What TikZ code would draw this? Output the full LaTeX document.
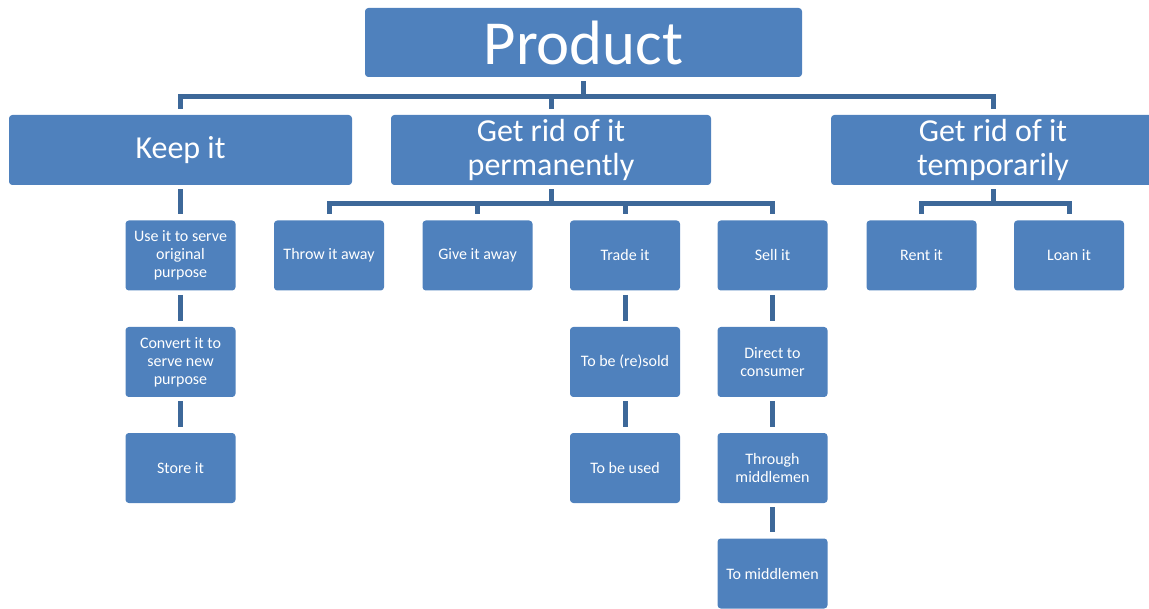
\documentclass[tikz,border=0pt]{standalone}
\usepackage{fontspec}
\setmainfont{Carlito}
\usetikzlibrary{calc}

\definecolor{boxblue}{HTML}{4F81BD}
\definecolor{linkblue}{RGB}{61,104,153}

\begin{document}
\begin{tikzpicture}[x=0.75pt, y=-0.75pt, line cap=butt, line join=miter]

% ---------------- styles ----------------
\tikzset{
  box/.style={draw=none, fill=boxblue, rounded corners=2.5pt, text=white,
    align=center, inner sep=0pt},
  topbox/.style={box, minimum width=327.75pt, minimum height=51.75pt,
    font=\fontsize{47}{50}\selectfont},
  midbox/.style={box, minimum height=52.5pt,
    font=\fontsize{24}{26}\selectfont},
  leafbox/.style={box, minimum width=82.5pt, minimum height=52.5pt,
    font=\fontsize{12}{13.5}\selectfont},
  conn/.style={draw=linkblue, line width=3.75pt, shorten <=3pt, shorten >=4.5pt}
}

\useasboundingbox (0,0) rectangle (1149,609);

% ---------------- top ----------------
\node[topbox] (prod) at (583.5,42.5) {Product};

% ---------------- first level ----------------
\node[midbox, minimum width=257.25pt] (keep) at (180.5,150) {Keep it};
\node[midbox, minimum width=240pt]    (perm) at (551,150) {Get rid of it\\permanently};
\node[midbox, minimum width=243pt]    (temp) at (993,150) {Get rid of it\\temporarily};

% ---------------- keep it ----------------
\node[leafbox] (use)   at (180.5,255.5) {Use it to serve\\original\\purpose};
\node[leafbox] (conv)  at (180.5,362)   {Convert it to\\serve new\\purpose};
\node[leafbox] (store) at (180.5,468)   {Store it};

% ---------------- permanently ----------------
\node[leafbox] (throw) at (329,255.5)   {Throw it away};
\node[leafbox] (give)  at (477.5,255.5) {Give it away};
\node[leafbox] (trade) at (625,255.5)   {Trade it};
\node[leafbox] (sell)  at (772.5,255.5) {Sell it};

\node[leafbox] (resold) at (625,362) {To be (re)sold};
\node[leafbox] (used)   at (625,468) {To be used};

\node[leafbox] (direct) at (772.5,362)   {Direct to\\consumer};
\node[leafbox] (through) at (772.5,468)  {Through\\middlemen};
\node[leafbox] (tomid)  at (772.5,573.5) {To middlemen};

% ---------------- temporarily ----------------
\node[leafbox] (rent) at (921.5,255.5) {Rent it};
\node[leafbox] (loan) at (1069,255.5)  {Loan it};

% ---------------- connectors ----------------
\draw[conn] (prod.south) -- ++(0,19) -| (keep.north);
\draw[conn] (prod.south) -- ++(0,19) -| (perm.north);
\draw[conn] (prod.south) -- ++(0,19) -| (temp.north);

\draw[conn] (keep.south) -- (use.north);
\draw[conn] (use.south) -- (conv.north);
\draw[conn] (conv.south) -- (store.north);

\foreach \leaf in {throw,give,trade,sell}
  \draw[conn] (perm.south) -- ++(0,18) -| (\leaf.north);
\draw[conn] (trade.south) -- (resold.north);
\draw[conn] (resold.south) -- (used.north);
\draw[conn] (sell.south) -- (direct.north);
\draw[conn] (direct.south) -- (through.north);
\draw[conn] (through.south) -- (tomid.north);

\foreach \leaf in {rent,loan}
  \draw[conn] (temp.south) -- ++(0,18) -| (\leaf.north);

\end{tikzpicture}
\end{document}
